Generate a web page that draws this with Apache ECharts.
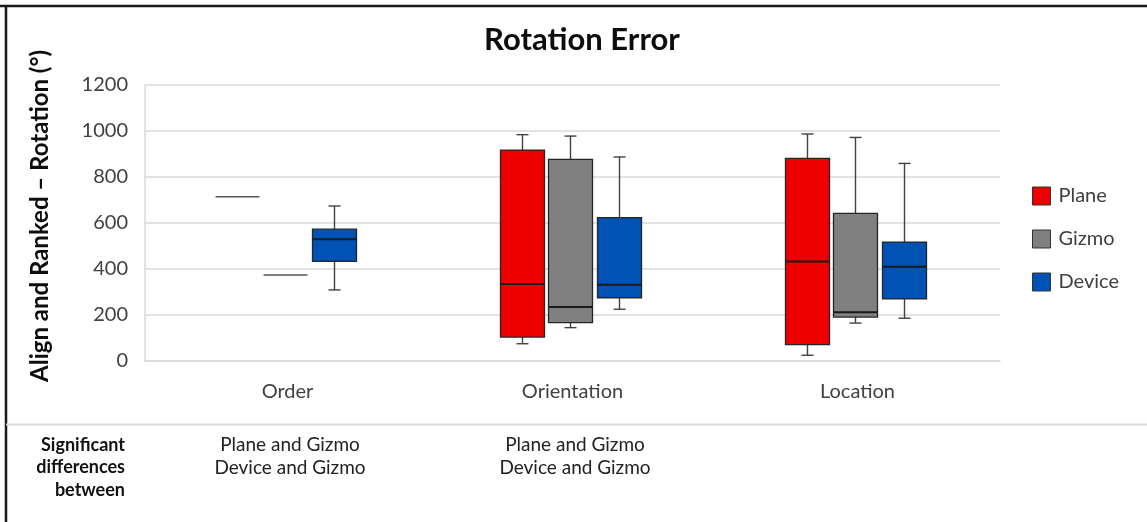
<!DOCTYPE html>
<html>
<head>
<meta charset="utf-8">
<script src="https://cdn.jsdelivr.net/npm/echarts@6/dist/echarts.min.js"></script>
<style>html,body{margin:0;padding:0;background:#fff;}#c{width:1147px;height:522px;}</style>
</head>
<body>
<div id="c"></div>
<script>
// ---- data ----
var categories = ['Order', 'Orientation', 'Location'];
var seriesNames = ['Plane', 'Gizmo', 'Device'];
// each row: [min, Q1, median, Q3, max]
var planeValues  = [[714, 714, 714, 714, 714], [75, 104, 335, 917, 984], [25, 71, 433, 881, 987]];
var gizmoValues  = [[374, 374, 374, 374, 374], [145, 167, 235, 877, 978], [165, 191, 212, 642, 972]];
var deviceValues = [[309, 433, 529, 573, 674], [225, 275, 332, 623, 887], [186, 270, 410, 517, 859]];
var yTicks = [0, 200, 400, 600, 800, 1000, 1200];
var sigHeader = ['Significant', 'differences', 'between'];
var sigOrder = ['Plane and Gizmo', 'Device and Gizmo'];
var sigOrientation = ['Plane and Gizmo', 'Device and Gizmo'];
var sigLocation = [];

var FONT = 'Lato, "Open Sans", sans-serif';
var colors = ['#ee0000', '#808080', '#0052b4'];
var offsets = [-50, -2, 47];
var BOX_W = 44;

function makeRender(offset) {
  return function (params, api) {
    var ci = api.value(0);
    var cx = api.coord([ci, 0])[0] + offset;
    var yMin = api.coord([ci, api.value(1)])[1];
    var yQ1 = api.coord([ci, api.value(2)])[1];
    var yMed = api.coord([ci, api.value(3)])[1];
    var yQ3 = api.coord([ci, api.value(4)])[1];
    var yMax = api.coord([ci, api.value(5)])[1];
    var fill = api.visual('color');
    var half = BOX_W / 2;
    var children = [];
    if (api.value(1) === api.value(5)) {
      children.push({type: 'line', shape: {x1: cx - half, y1: yMed, x2: cx + half, y2: yMed},
        style: {stroke: '#555', lineWidth: 1.6}});
      return {type: 'group', children: children};
    }
    var ws = {stroke: '#404040', lineWidth: 1.4};
    children.push({type: 'line', shape: {x1: cx, y1: yMax, x2: cx, y2: yQ3}, style: ws});
    children.push({type: 'line', shape: {x1: cx - 6, y1: yMax, x2: cx + 6, y2: yMax}, style: ws});
    children.push({type: 'line', shape: {x1: cx, y1: yQ1, x2: cx, y2: yMin}, style: ws});
    children.push({type: 'line', shape: {x1: cx - 6, y1: yMin, x2: cx + 6, y2: yMin}, style: ws});
    children.push({type: 'rect', shape: {x: cx - half, y: yQ3, width: BOX_W, height: yQ1 - yQ3},
      style: {fill: fill, stroke: '#262626', lineWidth: 1.3}});
    children.push({type: 'line', shape: {x1: cx - half, y1: yMed, x2: cx + half, y2: yMed},
      style: {stroke: '#1a1a1a', lineWidth: 2}});
    return {type: 'group', children: children};
  };
}

function toData(vals) {
  return vals.map(function (v, i) { return [i].concat(v); });
}

var allValues = [planeValues, gizmoValues, deviceValues];
var series = seriesNames.map(function (name, si) {
  return {
    name: name,
    type: 'custom',
    coordinateSystem: 'cartesian2d',
    itemStyle: {color: colors[si], borderColor: '#333', borderWidth: 1},
    encode: {x: 0, y: [1, 2, 3, 4, 5]},
    renderItem: makeRender(offsets[si]),
    data: toData(allValues[si])
  };
});

var graphics = [
  {type: 'line', shape: {x1: 0, y1: 6, x2: 1147, y2: 6}, style: {stroke: '#1a1a1a', lineWidth: 2.5}},
  {type: 'line', shape: {x1: 6, y1: 5, x2: 6, y2: 522}, style: {stroke: '#1a1a1a', lineWidth: 2.5}},
  {type: 'line', shape: {x1: 6, y1: 424.5, x2: 1147, y2: 424.5}, style: {stroke: '#d9d9d9', lineWidth: 2}},
  {type: 'text', x: 40, y: 216, rotation: Math.PI / 2,
    style: {text: 'Align and Ranked \u2013 Rotation (\u00b0)', fill: '#0d0d0d',
      font: 'bold 24px ' + FONT, textAlign: 'center', textVerticalAlign: 'middle'}}
];
sigHeader.forEach(function (t, i) {
  graphics.push({type: 'text', x: 125, y: 445 + i * 22.5,
    style: {text: t, fill: '#111', font: 'bold 18px ' + FONT, textAlign: 'right', textVerticalAlign: 'middle'}});
});
var sigCols = [sigOrder, sigOrientation, sigLocation];
var catCenters = [290, 575, 858];
sigCols.forEach(function (lines, ci) {
  lines.forEach(function (t, i) {
    graphics.push({type: 'text', x: catCenters[ci], y: 445 + i * 22.5,
      style: {text: t, fill: '#222', font: '19px ' + FONT, textAlign: 'center', textVerticalAlign: 'middle'}});
  });
});

var chart = echarts.init(document.getElementById('c'), null, {renderer: 'canvas'});
chart.setOption({
  animation: false,
  backgroundColor: '#ffffff',
  title: {
    text: 'Rotation Error', left: 577, top: 19, textAlign: 'center',
    textStyle: {fontFamily: FONT, fontWeight: 'bold', fontSize: 31, color: '#0d0d0d'}
  },
  legend: {
    orient: 'vertical', left: 1032, top: 186, itemGap: 23, itemWidth: 18, itemHeight: 18,
    padding: 0, icon: 'rect',
    data: seriesNames.map(function (n, i) {
      return {name: n, itemStyle: {color: colors[i], borderColor: '#333', borderWidth: 1}};
    }),
    textStyle: {fontFamily: FONT, fontSize: 20, color: '#404040', lineHeight: 18, padding: [0, 0, 0, 3]}
  },
  grid: {left: 145, right: 147, top: 85, bottom: 161, containLabel: false},
  xAxis: {
    type: 'category', data: categories,
    axisLine: {show: true, lineStyle: {color: '#d9d9d9', width: 1.5}},
    axisTick: {show: false},
    axisLabel: {fontFamily: FONT, fontSize: 20, color: '#404040', margin: 21}
  },
  yAxis: {
    type: 'value', min: 0, max: 1200, interval: 200,
    axisLine: {show: true, lineStyle: {color: '#d9d9d9', width: 1.5}},
    axisTick: {show: false},
    splitLine: {lineStyle: {color: '#d9d9d9', width: 1.5}},
    axisLabel: {fontFamily: FONT, fontSize: 20, color: '#404040', margin: 17,
      formatter: function (v) { return yTicks.indexOf(v) >= 0 ? String(v) : ''; }}
  },
  graphic: graphics,
  series: series
});
</script>
</body>
</html>
